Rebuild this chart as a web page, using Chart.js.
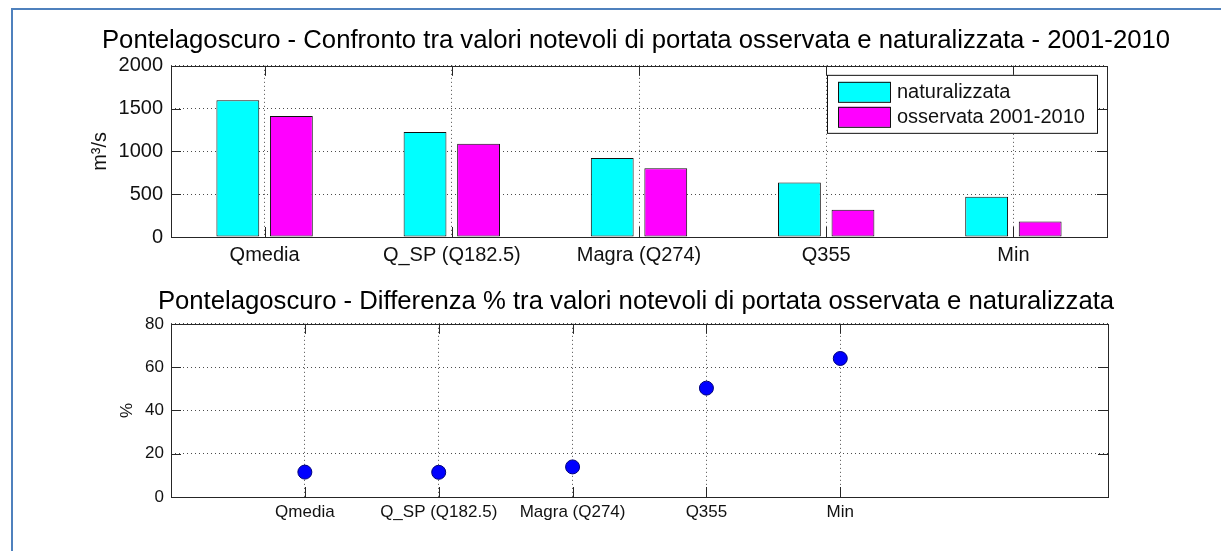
<!DOCTYPE html>
<html>
<head>
<meta charset="utf-8">
<script src="https://cdn.jsdelivr.net/npm/chart.js@4/dist/chart.umd.min.js"></script>
<style>
    body { margin: 0; background: #fff; }
    .page { position: relative; width: 1221px; height: 551px; overflow: hidden; }
    .frame {
        position: absolute; left: 11px; top: 8px; right: 0; bottom: 0;
        border-top: 2px solid #4f81bd; border-left: 2px solid #4f81bd;
    }
    canvas { position: absolute; left: 0; }
    #barChart { top: 0; }
    #diffChart { top: 268px; }
</style>
</head>
<body>
<div class="page">
    <div class="frame"></div>
    <canvas id="barChart" width="1221" height="268"></canvas>
    <canvas id="diffChart" width="1221" height="283"></canvas>
</div>
<script>
const categories = ['Qmedia', 'Q_SP (Q182.5)', 'Magra (Q274)', 'Q355', 'Min'];
const naturalizzata = [1597, 1227, 924, 636, 469];
const osservata = [1414, 1091, 803, 318, 182];
const diffPercent = [11.5, 11.4, 13.9, 50.3, 64.0];
const flowTicks = [0, 500, 1000, 1500, 2000];
const percentTicks = [0, 20, 40, 60, 80];

Chart.defaults.font.family = '"Liberation Sans", Arial, sans-serif';
Chart.defaults.color = '#111';

// MATLAB style: full box around the axes and short ticks pointing inward
const matlabAxes = {
    id: 'matlabAxes',
    afterDatasetsDraw(chart) {
        const { ctx, chartArea: a, scales } = chart;
        const len = 10;
        ctx.save();
        ctx.strokeStyle = '#262626';
        ctx.lineWidth = 1;
        ctx.beginPath();
        scales.y.ticks.forEach((t, i) => {
            const y = Math.round(scales.y.getPixelForTick(i)) + 0.5;
            ctx.moveTo(a.left, y); ctx.lineTo(a.left + len, y);
            ctx.moveTo(a.right, y); ctx.lineTo(a.right - len, y);
        });
        scales.x.ticks.forEach((t, i) => {
            const x = Math.round(scales.x.getPixelForTick(i)) + 0.5;
            ctx.moveTo(x, a.bottom); ctx.lineTo(x, a.bottom - len);
            ctx.moveTo(x, a.top); ctx.lineTo(x, a.top + len);
        });
        ctx.stroke();
        ctx.strokeRect(Math.round(a.left) + 0.5, Math.round(a.top) + 0.5,
            Math.round(a.width), Math.round(a.height));
        ctx.restore();
    }
};

// legend box drawn inside the axes, top right
const boxLegend = {
    id: 'boxLegend',
    afterDraw(chart) {
        const { ctx, chartArea: a } = chart;
        const w = 270, h = 58;
        const left = a.right - 10 - w, top = a.top + 9;
        ctx.save();
        ctx.fillStyle = '#fff';
        ctx.fillRect(left, top, w, h);
        ctx.strokeStyle = '#111';
        ctx.lineWidth = 1;
        ctx.strokeRect(left + 0.5, top + 0.5, w, h);
        ctx.font = '20px "Liberation Sans", Arial, sans-serif';
        ctx.textBaseline = 'middle';
        chart.data.datasets.forEach((ds, i) => {
            const sy = top + 7 + i * 25;
            ctx.fillStyle = ds.backgroundColor;
            ctx.fillRect(left + 11, sy, 52, 20);
            ctx.strokeStyle = '#111';
            ctx.strokeRect(left + 11.5, sy + 0.5, 52, 20);
            ctx.fillStyle = '#111';
            ctx.fillText(ds.label, left + 70, sy + 11);
        });
        ctx.restore();
    }
};

const dotted = { color: 'rgba(0,0,0,0.7)', lineWidth: 1, drawTicks: false };

// empty right-hand axis, only keeps room so the title centres over the axes
function spacer(width) {
    return {
        position: 'right',
        grid: { display: false, drawTicks: false },
        border: { display: false },
        ticks: { display: false },
        afterFit: s => { s.width = width; }
    };
}

new Chart(document.getElementById('barChart'), {
    type: 'bar',
    data: {
        labels: categories,
        datasets: [
            { label: 'naturalizzata', data: naturalizzata, backgroundColor: '#00ffff',
              borderColor: '#111', borderWidth: 1, borderSkipped: false },
            { label: 'osservata 2001-2010', data: osservata, backgroundColor: '#ff00ff',
              borderColor: '#111', borderWidth: 1, borderSkipped: false }
        ]
    },
    options: {
        responsive: false,
        animation: false,
        events: [],
        categoryPercentage: 0.572,
        barPercentage: 0.8,
        layout: { padding: { left: 80, right: 29, top: 0, bottom: 0 } },
        plugins: {
            legend: { display: false },
            tooltip: { enabled: false },
            title: {
                display: true,
                text: 'Pontelagoscuro - Confronto tra valori notevoli di portata osservata e naturalizzata - 2001-2010',
                font: { size: 25.7, weight: 'normal' },
                color: '#000',
                padding: { top: 25, bottom: 10 }
            }
        },
        scales: {
            x: {
                grid: { ...dotted, offset: false },
                border: { display: false, dash: [1, 3] },
                ticks: { font: { size: 20 }, padding: 6, maxRotation: 0, autoSkip: false },
                afterFit: s => { s.height = 31; }
            },
            y: {
                min: 0, max: 2000,
                grid: dotted,
                border: { display: false, dash: [1, 3] },
                afterBuildTicks: s => { s.ticks = flowTicks.map(v => ({ value: v })); },
                ticks: { font: { size: 20 }, padding: 8, callback: v => String(v) },
                title: { display: true, text: 'm³/s', font: { size: 20 }, padding: { top: 8, bottom: 0 } },
                afterFit: s => { s.width = 91; }
            },
            yRight: spacer(85)
        }
    },
    plugins: [matlabAxes, boxLegend]
});

new Chart(document.getElementById('diffChart'), {
    type: 'scatter',
    data: {
        datasets: [{
            label: 'Differenza %',
            data: diffPercent.map((v, i) => ({ x: i + 1, y: v })),
            backgroundColor: '#0000ff',
            borderColor: '#00007a',
            borderWidth: 1,
            pointRadius: 7
        }]
    },
    options: {
        responsive: false,
        animation: false,
        events: [],
        layout: { padding: { left: 110, right: 59, top: 0, bottom: 0 } },
        plugins: {
            legend: { display: false },
            tooltip: { enabled: false },
            title: {
                display: true,
                text: 'Pontelagoscuro - Differenza % tra valori notevoli di portata osservata e naturalizzata',
                font: { size: 25.7, weight: 'normal' },
                color: '#000',
                padding: { top: 18, bottom: 7 }
            }
        },
        scales: {
            x: {
                type: 'linear',
                min: 0, max: 7,
                grid: dotted,
                border: { display: false, dash: [1, 3] },
                afterBuildTicks: s => { s.ticks = categories.map((c, i) => ({ value: i + 1 })); },
                ticks: {
                    font: { size: 17 }, padding: 5, maxRotation: 0, autoSkip: false,
                    callback: v => categories[v - 1]
                },
                afterFit: s => { s.height = 54; }
            },
            y: {
                min: 0, max: 80,
                grid: dotted,
                border: { display: false, dash: [1, 3] },
                afterBuildTicks: s => { s.ticks = percentTicks.map(v => ({ value: v })); },
                ticks: { font: { size: 17 }, padding: 7 },
                title: { display: true, text: '%', font: { size: 17 }, padding: { top: 7, bottom: 0 } },
                afterFit: s => { s.width = 61; }
            },
            yRight: spacer(54)
        }
    },
    plugins: [matlabAxes]
});
</script>
</body>
</html>
